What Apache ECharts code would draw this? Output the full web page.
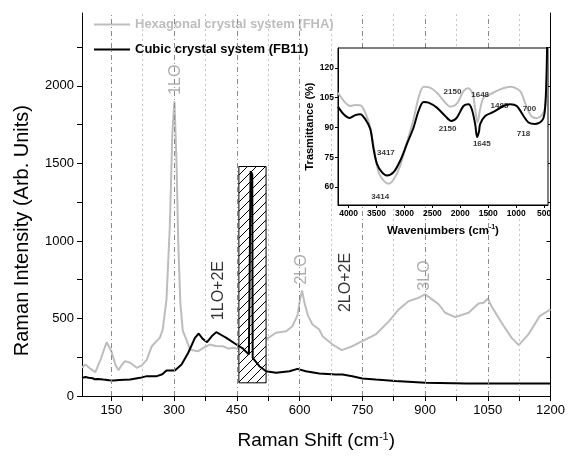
<!DOCTYPE html>
<html><head><meta charset="utf-8">
<script src="https://cdn.jsdelivr.net/npm/echarts@6/dist/echarts.min.js"></script>
<style>html,body{margin:0;padding:0;background:#fff}#c{width:568px;height:456px}</style>
</head><body><div id="c"></div>
<script>
// ---------- data ----------
const seriesNames = ['Hexagonal crystal system (FHA)', 'Cubic crystal system (FB11)'];
const ramanFHA = [[80,182],[88,203],[98,180],[112,154],[125,240],[139,347],[150,290],[160,200],[167,167],[175,200],[183,225],[195,214],[211,182],[223,198],[235,235],[247,321],[258,354],[266,375],[273,430],[282,623],[290,1100],[296,1700],[301,1900],[306,1500],[310,1000],[315,600],[321,420],[330,360],[338,300],[350,292],[358,289],[370,310],[385,332],[400,322],[417,321],[430,305],[441,311],[460,300],[475,290],[488,300],[505,330],[520,365],[544,408],[568,418],[583,450],[595,520],[601,620],[606,680],[612,600],[620,520],[631,461],[647,429],[655,386],[679,332],[701,296],[726,321],[750,354],[782,397],[814,483],[837,558],[861,612],[885,634],[900,655],[917,623],[933,590],[948,537],[972,509],[1004,537],[1028,597],[1040,601],[1050,627],[1059,579],[1083,472],[1107,375],[1124,328],[1147,397],[1174,515],[1200,558]];
const ramanFB11 = [[80,117],[84,108],[88,122],[92,110],[96,118],[100,106],[105,115],[110,108],[118,110],[131,106],[145,102],[155,100],[170,103],[195,106],[219,117],[235,128],[259,128],[272,140],[282,165],[302,165],[318,203],[334,279],[350,375],[359,403],[368,370],[379,347],[390,385],[401,412],[412,395],[425,375],[449,332],[465,305],[479,268],[483,1450],[487,1430],[488,246],[504,192],[520,160],[544,150],[576,160],[595,175],[615,160],[647,145],[687,139],[703,139],[726,128],[750,113],[782,106],[829,96],[901,85],[1000,80],[1100,80],[1200,81]];
const hatchBox = [[455, 85, 520, 1480]];
const ramanXTicks = [150,300,450,600,750,900,1050,1200];
const ramanXMinor = [225,375,525,675,825,975,1125];
const ramanYTicks = [0,500,1000,1500,2000];
const ramanYMinor = [0,250,500,750,1000,1250,1500,1750,2000,2250];
const peakLabels = [
  {text:'1LO', x:304, y:2040, dark:false},
  {text:'1LO+2E', x:407, y:680, dark:true},
  {text:'2LO', x:606, y:816, dark:false},
  {text:'2LO+2E', x:711, y:732, dark:true},
  {text:'3LO', x:899, y:777, dark:false}
];
const ftirFHA = [[4191,107.5],[4060,102.5],[3970,100.8],[3881,101.3],[3791,101.2],[3702,97.5],[3612,90],[3523,75.8],[3463,67.5],[3374,63.3],[3284,61.7],[3195,63.8],[3076,70.8],[2956,82.5],[2837,94.2],[2748,105],[2658,110.5],[2569,110.3],[2420,107.5],[2271,102.5],[2181,100.5],[2062,102],[1943,108.3],[1853,109.7],[1776,106.7],[1734,99.2],[1692,92.5],[1645,99.2],[1585,105],[1466,106.7],[1287,109.2],[1108,110.5],[929,108.3],[810,100],[720,95.5],[631,94.7],[541,96.2],[482,100],[452,115.8],[440,131]];
const ftirFB11 = [[4191,100.5],[4089,96.7],[3982,94.8],[3881,96.2],[3791,96.7],[3702,94.2],[3612,89.2],[3553,79.2],[3493,71.7],[3404,67.5],[3314,65.8],[3195,67.5],[3076,73.3],[2956,81.7],[2837,90],[2748,98.3],[2658,102.8],[2569,102.5],[2420,100],[2271,95.8],[2163,93.3],[2062,95],[1943,100.8],[1853,101.7],[1794,99.2],[1734,91.7],[1700,85.2],[1665,88],[1645,91.7],[1555,95.8],[1406,97.8],[1227,100.8],[1108,101.7],[989,100.8],[869,95.8],[780,92.5],[661,91.7],[541,93.3],[494,96.7],[464,109],[446,131]];
const ftirLabels = [
  {text:'3417', x:3332, y:77.5},{text:'3414', x:3434, y:55.3},
  {text:'2150', x:2140, y:108},{text:'1648', x:1645, y:106.7},
  {text:'1485', x:1299, y:100.8},{text:'700', x:762, y:99.5},
  {text:'2150', x:2229, y:89.2},{text:'1645', x:1615, y:81.7},
  {text:'718', x:869, y:86.7}
];
const ftirXTicks = [4000,3500,3000,2500,2000,1500,1000,500];
const ftirYTicks = [60,75,90,105,120];

// ---------- styles ----------
const GRAY = '#bdbdbd';
const FONT = '"Liberation Sans", Arial, sans-serif';
const plain = v => String(v);

const pc = document.createElement('canvas');
pc.width = 9; pc.height = 9;
const g = pc.getContext('2d');
g.fillStyle = '#fff'; g.fillRect(0,0,9,9);
g.strokeStyle = '#000'; g.lineWidth = 1;
g.beginPath(); g.moveTo(-1,10); g.lineTo(10,-1); g.stroke();

const gridLines = ramanXTicks.filter(v => v < 1200).map(v => ({xAxis:v, lineStyle:{color:'#8a8a8a', type:[5,3,1,3], width:1}}))
  .concat(ramanXMinor.map(v => ({xAxis:v, lineStyle:{color:'#c4c4c4', type:[2,3], width:1}})));

const chart = echarts.init(document.getElementById('c'), null, {renderer:'canvas'});
chart.setOption({
  animation:false,
  backgroundColor:'#fff',
  textStyle:{fontFamily:FONT},
  legend:{
    data:[{name:seriesNames[0], textStyle:{color:GRAY}}, {name:seriesNames[1], textStyle:{color:'#000'}}],
    icon:'path://M0,0L36,0L36,2L0,2Z',
    orient:'vertical', left:89, top:13, itemWidth:36, itemHeight:14, itemGap:12,
    textStyle:{fontSize:13, fontWeight:'bold', fontFamily:FONT}
  },
  graphic:[
    {type:'text', left:12, top:105, rotation:Math.PI/2, style:{text:'Raman Intensity (Arb. Units)', font:'20px "Liberation Sans", Arial, sans-serif', fill:'#000'}}
  ],
  grid:[
    {left:82, right:16, top:13, bottom:60, show:false},
    {left:338, top:48, width:210, height:157, show:true, backgroundColor:'#fff', borderColor:'#000', borderWidth:1, z:10}
  ],
  xAxis:[
    {gridIndex:0, type:'value', min:80, max:1200, position:'bottom',
     name:'{a|Raman Shift (cm}{s|-1}{a|)}', nameLocation:'middle', nameGap:35,
     nameTextStyle:{rich:{a:{fontSize:19, fontFamily:FONT, color:'#000'}, s:{fontSize:11, fontFamily:FONT, color:'#000', verticalAlign:'top', padding:[0,0,9,0]}}},
     axisLine:{lineStyle:{color:'#000', width:1}},
     axisTick:{show:true, customValues:ramanXTicks.concat(ramanXMinor), length:5, lineStyle:{color:'#000'}},
     axisLabel:{customValues:ramanXTicks, formatter:plain, fontSize:13, color:'#000', margin:8, fontFamily:FONT},
     splitLine:{show:false}},
    {gridIndex:0, type:'value', min:80, max:1200, position:'top',
     axisLine:{lineStyle:{color:'#000', width:1}},
     axisTick:{show:true, inside:true, customValues:ramanXTicks.concat(ramanXMinor), length:4, lineStyle:{color:'#000'}},
     axisLabel:{show:false}, splitLine:{show:false}},
    {gridIndex:1, type:'value', min:430, max:4190, inverse:true, z:11,
     name:'{a|Wavenumbers (cm}{s|-1}{a|)}', nameLocation:'middle', nameGap:19,
     nameTextStyle:{rich:{a:{fontSize:11.5, fontWeight:'bold', fontFamily:FONT, color:'#000'}, s:{fontSize:7, fontWeight:'bold', fontFamily:FONT, color:'#000', verticalAlign:'top', padding:[0,0,6,0]}}},
     axisLine:{lineStyle:{color:'#000'}},
     axisTick:{customValues:ftirXTicks, length:3, lineStyle:{color:'#000'}},
     axisLabel:{customValues:ftirXTicks, formatter:plain, fontSize:8.5, fontWeight:'bold', color:'#000', margin:4, fontFamily:FONT},
     splitLine:{show:false}}
  ],
  yAxis:[
    {gridIndex:0, type:'value', min:0, max:2470, position:'left',
     axisLine:{show:true, lineStyle:{color:'#000', width:1}},
     axisTick:{show:true, customValues:ramanYMinor, length:5, lineStyle:{color:'#000'}},
     axisLabel:{customValues:ramanYTicks, formatter:plain, fontSize:13, color:'#000', margin:8, fontFamily:FONT},
     splitLine:{show:false}},
    {gridIndex:0, type:'value', min:0, max:2470, position:'right',
     axisLine:{show:true, lineStyle:{color:'#000', width:1}},
     axisTick:{show:true, inside:true, customValues:ramanYMinor, length:4, lineStyle:{color:'#000'}},
     axisLabel:{show:false}, splitLine:{show:false}},
    {gridIndex:1, type:'value', min:51, max:130, z:11,
     name:'Trasmittance (%)', nameLocation:'middle', nameGap:22,
     nameTextStyle:{fontSize:11, fontWeight:'bold', color:'#000', fontFamily:FONT},
     axisLine:{show:true, lineStyle:{color:'#000'}},
     axisTick:{show:true, customValues:ftirYTicks, length:3, lineStyle:{color:'#000'}},
     axisLabel:{customValues:ftirYTicks, formatter:plain, fontSize:8.5, fontWeight:'bold', color:'#000', margin:4, fontFamily:FONT},
     splitLine:{show:false}}
  ],
  series:[
    {name:seriesNames[0], type:'line', xAxisIndex:0, yAxisIndex:0, data:ramanFHA, symbol:'none', z:2,
     lineStyle:{color:GRAY, width:2}, itemStyle:{color:GRAY},
     markLine:{silent:true, symbol:['none','none'], label:{show:false}, data:gridLines, animation:false}},
    {name:'box', type:'custom', xAxisIndex:0, yAxisIndex:0, data:hatchBox, z:3,
     encode:{x:[0,2], y:[1,3]},
     renderItem:function(params, api){
       const p1 = api.coord([api.value(0), api.value(3)]);
       const p2 = api.coord([api.value(2), api.value(1)]);
       return {type:'rect', shape:{x:p1[0], y:p1[1], width:p2[0]-p1[0], height:p2[1]-p1[1]},
         style:{fill:{image:pc, repeat:'repeat'}, stroke:'#000', lineWidth:1}};
     }},
    {name:seriesNames[1], type:'line', xAxisIndex:0, yAxisIndex:0, data:ramanFB11, symbol:'none', z:4,
     lineStyle:{color:'#000', width:2}, itemStyle:{color:'#000'}},
    {name:'peaks', type:'scatter', xAxisIndex:0, yAxisIndex:0, z:5, symbolSize:0, silent:true,
     data:peakLabels.map(p => ({value:[p.x, p.y], label:{show:true, formatter:p.text, rotate:90, position:'inside',
       fontSize:16, color:p.dark ? '#000' : '#9a9a9a', fontFamily:FONT}}))},
    {name:'FTIR FHA', type:'line', xAxisIndex:2, yAxisIndex:2, data:ftirFHA, symbol:'none', z:12, smooth:0.3,
     lineStyle:{color:GRAY, width:2}, clip:true},
    {name:'FTIR FB11', type:'line', xAxisIndex:2, yAxisIndex:2, data:ftirFB11, symbol:'none', z:13, smooth:0.3,
     lineStyle:{color:'#000', width:2}, clip:true},
    {name:'ftirLabels', type:'scatter', xAxisIndex:2, yAxisIndex:2, z:14, symbolSize:0, silent:true,
     data:ftirLabels.map(p => ({value:[p.x, p.y], label:{show:true, formatter:p.text, position:'inside',
       fontSize:8, fontWeight:'bold', color:'#000', fontFamily:FONT}}))}
  ]
});
</script></body></html>
